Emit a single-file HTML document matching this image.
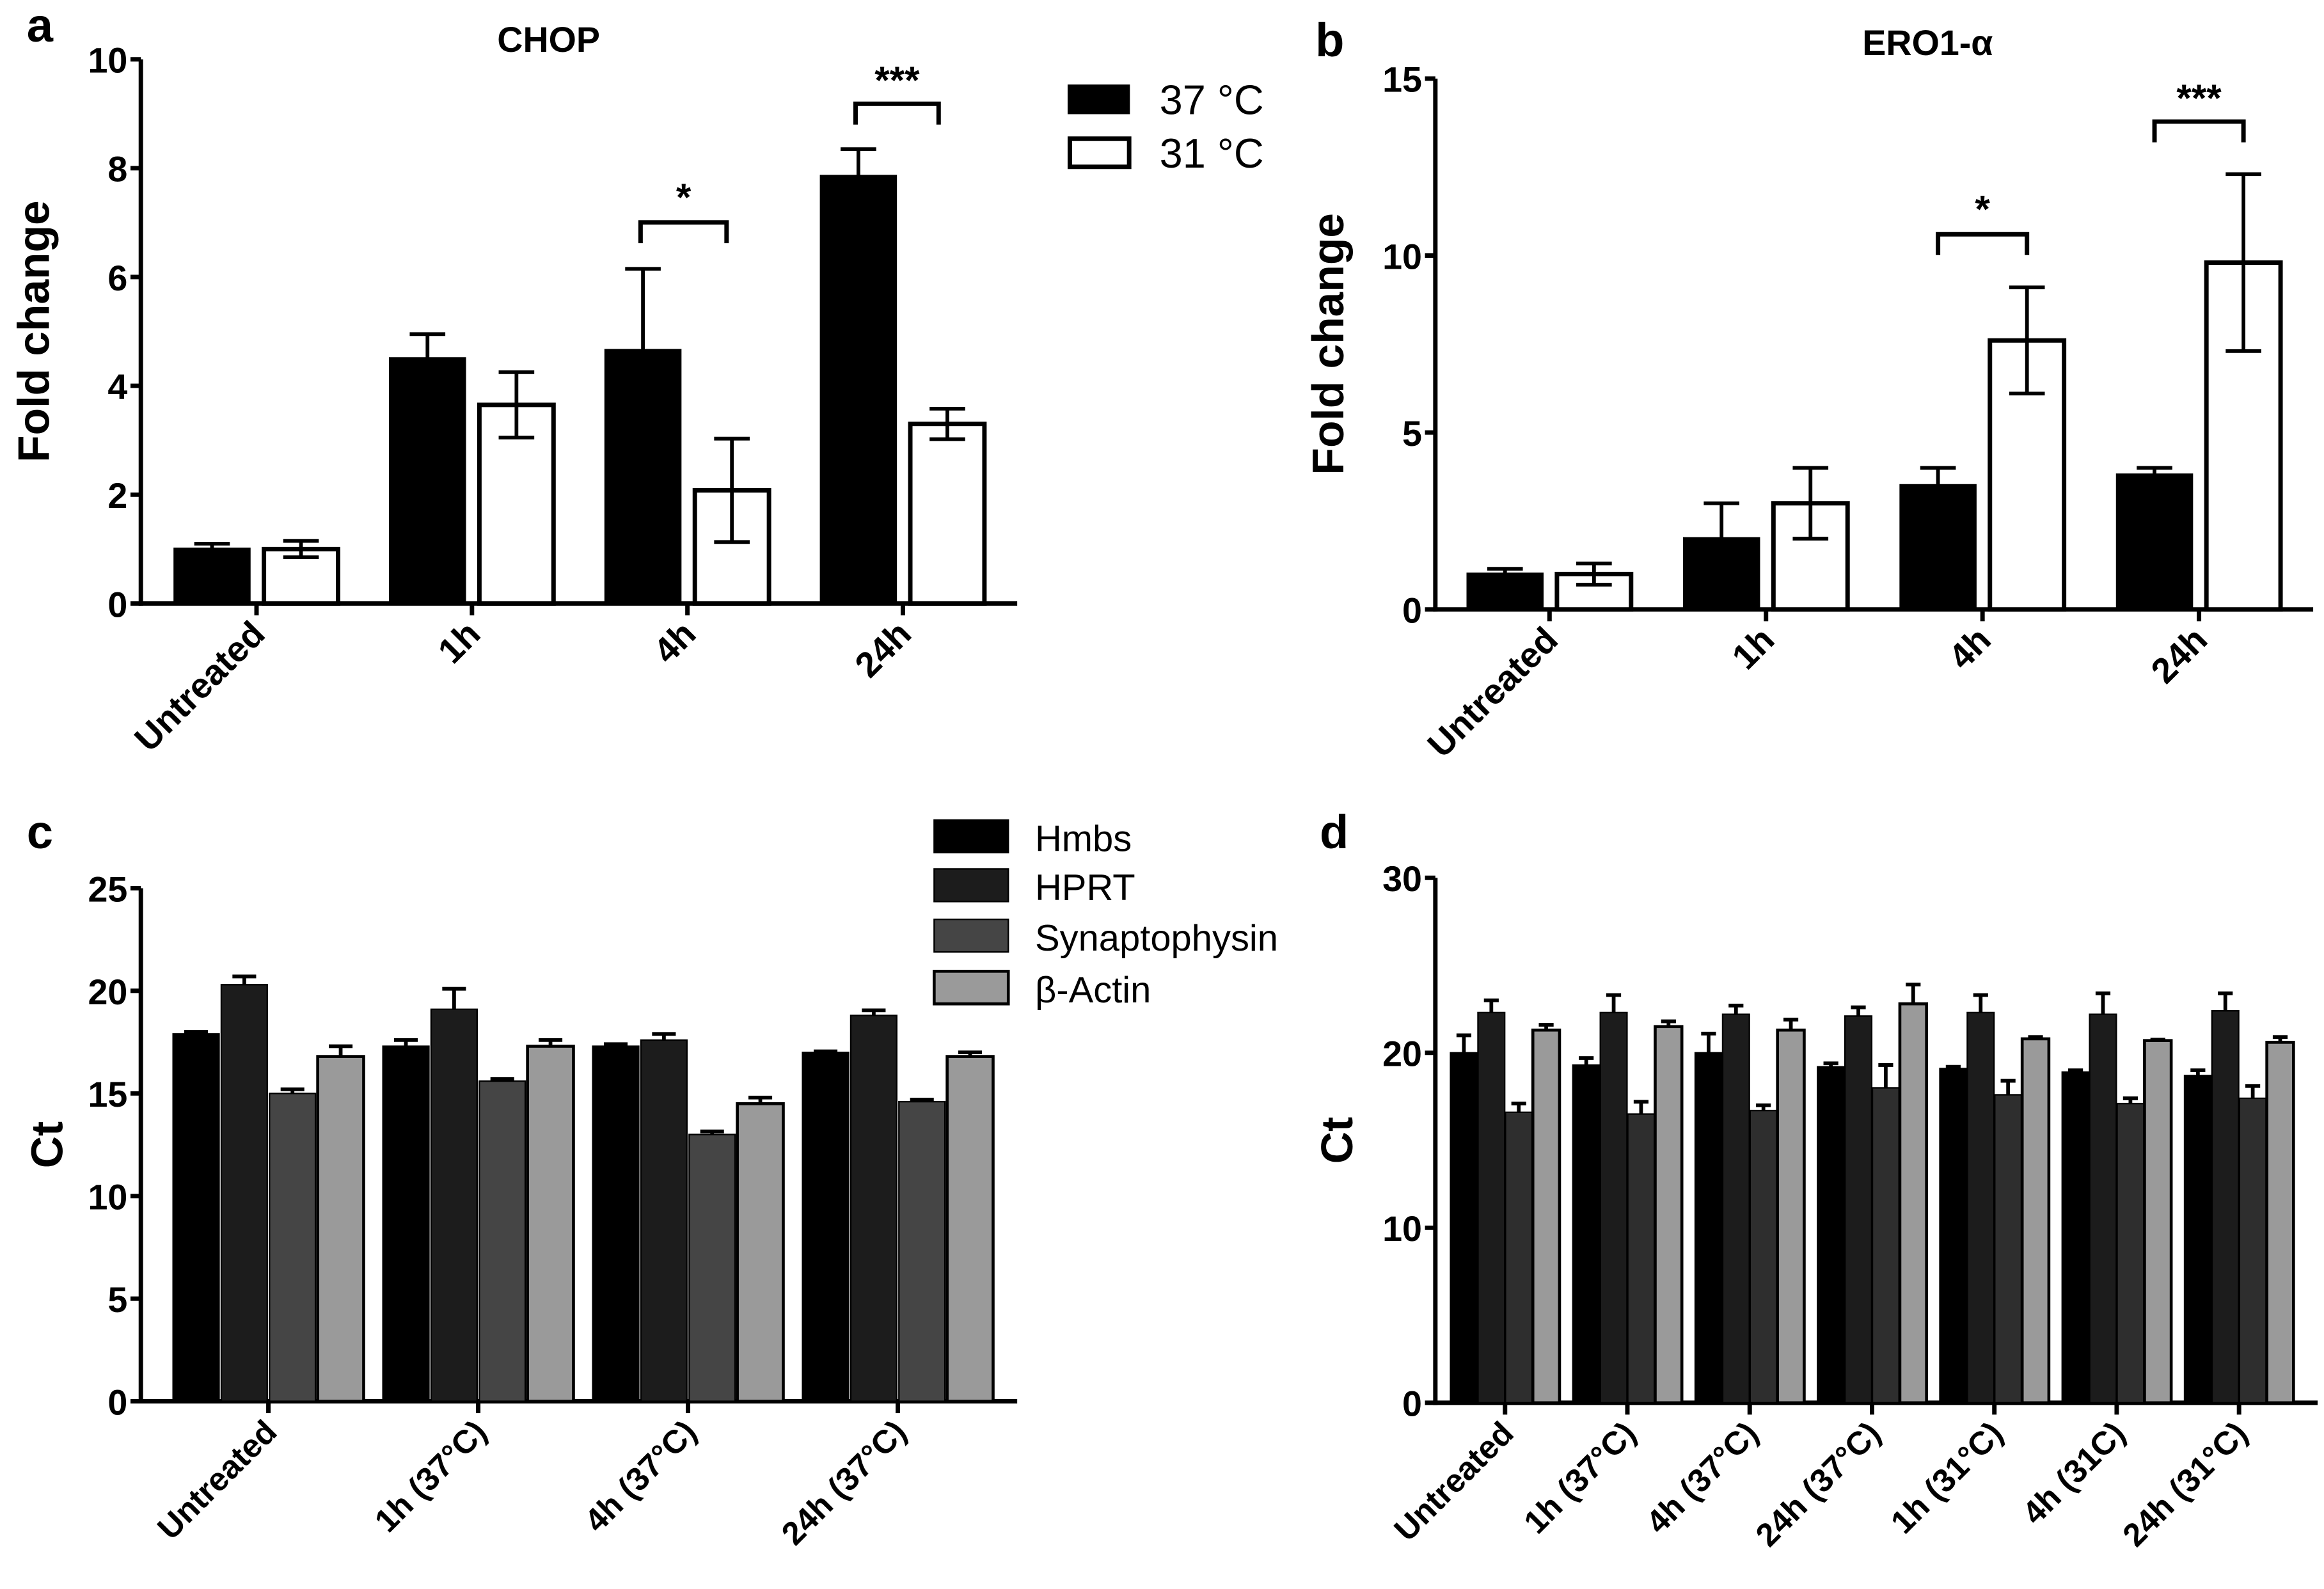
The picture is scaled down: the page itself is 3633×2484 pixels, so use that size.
<!DOCTYPE html>
<html><head><meta charset="utf-8"><style>
html,body{margin:0;padding:0;background:#fff}
svg{display:block}
text{font-family:"Liberation Sans",Arial,sans-serif}
</style></head><body>
<svg id="fig" xmlns="http://www.w3.org/2000/svg" width="3633" height="2484" viewBox="0 0 1567.3 1071.6" preserveAspectRatio="none">
<rect width="1567.3" height="1071.6" fill="#fff"/>
<g id="root"></g>
</svg>
<script>
// Panel a (CHOP)
const catsA = ["Untreated","1h","4h","24h"];
const a37 = [1.0,4.5,4.65,7.85];
const a37err = [0.1,0.45,1.5,0.5];
const a31 = [1.0,3.65,2.08,3.3];
const a31err = [0.15,0.6,0.95,0.28];
const ticksA = [0,2,4,6,8,10];
// Panel b (ERO1-alpha)
const catsB = ["Untreated","1h","4h","24h"];
const b37 = [1.0,2.0,3.5,3.8];
const b37err = [0.15,1.0,0.5,0.2];
const b31 = [1.0,3.0,7.6,9.8];
const b31err = [0.3,1.0,1.5,2.5];
const ticksB = [0,5,10,15];
// Panel c
const catsC = ["Untreated","1h (37\u00b0C)","4h (37\u00b0C)","24h (37\u00b0C)"];
const cHmbs = [17.9,17.3,17.3,17.0];
const cHmbsErr = [0.1,0.3,0.1,0.05];
const cHprt = [20.3,19.1,17.6,18.8];
const cHprtErr = [0.4,1.0,0.3,0.25];
const cSyn = [15.0,15.6,13.0,14.6];
const cSynErr = [0.2,0.1,0.15,0.1];
const cAct = [16.8,17.3,14.5,16.8];
const cActErr = [0.5,0.3,0.3,0.2];
const ticksC = [0,5,10,15,20,25];
// Panel d
const catsD = ["Untreated","1h (37\u00b0C)","4h (37\u00b0C)","24h (37\u00b0C)","1h (31\u00b0C)","4h (31C)","24h (31\u00b0C)"];
const dHmbs = [20.0,19.3,20.0,19.2,19.1,18.9,18.7];
const dHmbsErr = [1.0,0.4,1.1,0.2,0.1,0.1,0.3];
const dHprt = [22.3,22.3,22.2,22.1,22.3,22.2,22.4];
const dHprtErr = [0.7,1.0,0.5,0.5,1.0,1.2,1.0];
const dSyn = [16.6,16.5,16.7,18.0,17.6,17.1,17.4];
const dSynErr = [0.5,0.7,0.3,1.3,0.8,0.3,0.7];
const dAct = [21.3,21.5,21.3,22.8,20.8,20.7,20.6];
const dActErr = [0.3,0.3,0.6,1.1,0.1,0.05,0.3];
const ticksD = [0,10,20,30];

const NS="http://www.w3.org/2000/svg";
const root=document.getElementById('root');
function el(tag,attrs,parent,txt){const e=document.createElementNS(NS,tag);for(const k in attrs)e.setAttribute(k,attrs[k]);if(txt!==undefined)e.textContent=txt;(parent||root).appendChild(e);return e;}

function panel(cfg){
  const g=el('g',{'font-weight':'bold'});
  
  
  const y=v=>cfg.y0-(v-0)/(cfg.ymax)*(cfg.y0-cfg.yTop);
  const ya=el('line',{x1:cfg.ax,y1:cfg.yTop,x2:cfg.ax,y2:cfg.y0+1.5,stroke:'#000','stroke-width':3},g);
  
  
  const xa=el('line',{x1:cfg.ax-1.5,y1:cfg.y0,x2:cfg.axEnd,y2:cfg.y0,stroke:'#000','stroke-width':3},g);
  
  
  cfg.ticks.forEach(t=>{
    el('line',{x1:cfg.ax-7,y1:y(t),x2:cfg.ax,y2:y(t),stroke:'#000','stroke-width':3},g);
    const tl=el('text',{x:cfg.ax-9,y:y(t)+9,'text-anchor':'end','font-size':24},g,t);
    
    
  });
  const yt=el('text',{transform:`translate(${cfg.ytx},${(cfg.y0+cfg.yTop)/2}) rotate(-90)`,'text-anchor':'middle','font-size':30},g,cfg.ytitle);
  
  
  const ns=cfg.series.length;
  cfg.cats.forEach((c,i)=>{
    const cx=cfg.c0+i*cfg.step;
    el('line',{x1:cx,y1:cfg.y0,x2:cx,y2:cfg.y0+8,stroke:'#000','stroke-width':3},g);
    const xl=el('text',{transform:`translate(${cx+7},${cfg.y0+22}) rotate(-45)`,'text-anchor':'end','font-size':cfg.xfs},g,c);
    
    
    cfg.series.forEach((s,j)=>{
      const x=cx-ns*cfg.bw/2-(ns-1)*cfg.gap/2+j*(cfg.bw+cfg.gap);
      const v=s.vals[i], e=s.err[i];
      const xm=x+cfg.bw/2;
      if(e>0){
        const eb=el('line',{x1:xm,y1:y(v),x2:xm,y2:y(v+e),stroke:'#000','stroke-width':2.5},g);
        
        
        el('line',{x1:xm-cfg.cap,y1:y(v+e),x2:xm+cfg.cap,y2:y(v+e),stroke:'#000','stroke-width':2.5},g);
      }
      const r=el('rect',{x:x,y:y(v),width:cfg.bw,height:cfg.y0-y(v),fill:s.fill,stroke:'#000','stroke-width':s.sw},g);
      
      
      if(s.both&&e>0){ el('line',{x1:xm,y1:y(v),x2:xm,y2:y(v-e),stroke:'#000','stroke-width':2.5},g);
        el('line',{x1:xm-cfg.cap,y1:y(v-e),x2:xm+cfg.cap,y2:y(v-e),stroke:'#000','stroke-width':2.5},g);}
    });
  });
  return {g,y};
}
function txt(x,y,s,fs,name,anchor,w){const t=el('text',{x:x,y:y,'font-size':fs,'text-anchor':anchor||'start',style:'font-weight:'+(w||'bold')},root,s);return t;}
function bracket(x1,x2,yb,label,ty){
  const p=el('path',{d:`M${x1} ${yb+14} V${yb} H${x2} V${yb+14}`,fill:'none',stroke:'#000','stroke-width':3});
  
  
  txt((x1+x2)/2,ty,label,26,'significance-stars','middle');
}

panel({name:'panel-a-chop',cats:catsA,ticks:ticksA,ymax:10,y0:407,yTop:40,ax:95,axEnd:686,c0:173,step:145.3,bw:50,gap:10,cap:12,xfs:24,ytx:33,ytitle:'Fold change',
  series:[{key:'37c',vals:a37,err:a37err,fill:'#000',sw:2},{key:'31c',vals:a31,err:a31err,fill:'#fff',sw:3,both:true}]});
txt(18,28,'a',32,'panel-label-a');
txt(370,35,'CHOP',24,'chart-title-a','middle');
bracket(432,490,150,'*',142);
bracket(577,633,70,'***',63);
let r;
r=el('rect',{x:720,y:57,width:42,height:20,fill:'#000'});
txt(782,77,'37 \u00b0C',28,'legend-label-37c','start','normal');
r=el('rect',{x:721.5,y:93.5,width:40,height:19,fill:'#fff',stroke:'#000','stroke-width':3});
txt(782,113,'31 \u00b0C',28,'legend-label-31c','start','normal');

panel({name:'panel-b-ero1a',cats:catsB,ticks:ticksB,ymax:15,y0:411,yTop:53,ax:968,axEnd:1560,c0:1045,step:146,bw:50,gap:10,cap:12,xfs:24,ytx:906,ytitle:'Fold change',
  series:[{key:'37c',vals:b37,err:b37err,fill:'#000',sw:2},{key:'31c',vals:b31,err:b31err,fill:'#fff',sw:3,both:true}]});
txt(887,38,'b',32,'panel-label-b');
txt(1300,37,'ERO1-\u03b1',24,'chart-title-b','middle');
bracket(1307,1367,158,'*',150);
bracket(1453,1513,82,'***',75);

const cSeries=[{key:'hmbs',vals:cHmbs,err:cHmbsErr,fill:'#000',sw:1},{key:'hprt',vals:cHprt,err:cHprtErr,fill:'#1c1c1c',sw:1},{key:'syn',vals:cSyn,err:cSynErr,fill:'#454545',sw:1},{key:'actin',vals:cAct,err:cActErr,fill:'#9a9a9a',sw:2}];
panel({name:'panel-c-ct',cats:catsC,ticks:ticksC,ymax:25,y0:945,yTop:599,ax:95,axEnd:686,c0:181,step:141.5,bw:31,gap:1.5,cap:8,xfs:22,ytx:42,ytitle:'Ct',series:cSeries});
txt(18,572,'c',32,'panel-label-c');
const legC=[['Hmbs','#000'],['HPRT','#1c1c1c'],['Synaptophysin','#454545'],['\u03b2-Actin','#9a9a9a']];
const legY=[553,586,620,655];
legC.forEach((l,i)=>{
  const rr=el('rect',{x:630,y:legY[i],width:50,height:22,fill:l[1],stroke:'#000','stroke-width':i==3?2:1});
  
  
  txt(698,legY[i]+21,l[0],25,'legend-label-'+i,'start','normal');
});

const dSeries=[{key:'hmbs',vals:dHmbs,err:dHmbsErr,fill:'#000',sw:1},{key:'hprt',vals:dHprt,err:dHprtErr,fill:'#1c1c1c',sw:1},{key:'syn',vals:dSyn,err:dSynErr,fill:'#2e2e2e',sw:1},{key:'actin',vals:dAct,err:dActErr,fill:'#9a9a9a',sw:2}];
panel({name:'panel-d-ct',cats:catsD,ticks:ticksD,ymax:30,y0:946,yTop:592,ax:968,axEnd:1563,c0:1015,step:82.5,bw:18,gap:0.5,cap:5,xfs:22,ytx:912,ytitle:'Ct',series:dSeries});
txt(890,572,'d',32,'panel-label-d');
</script>
</body></html>
